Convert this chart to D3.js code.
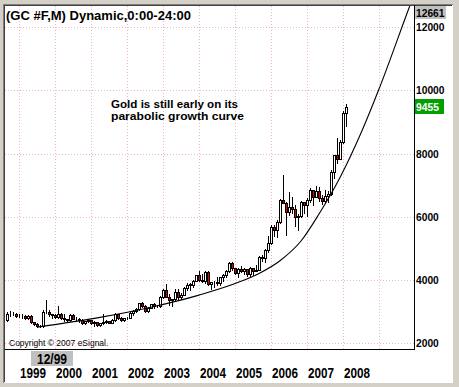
<!DOCTYPE html>
<html><head><meta charset="utf-8">
<script src="https://cdn.jsdelivr.net/npm/d3@7"></script>
<style>html,body{margin:0;padding:0;background:#fff;overflow:hidden}svg{display:block}</style>
</head><body>
<svg id="c" width="459" height="387"></svg>
<script>
// ---- data (monthly candles, price x10) ----
const firstMonth = "1998-09";
const opens = [
  2730, 2930, 2920, 2940,
  2880, 2870, 2880, 2800, 2870, 2680, 2620, 2560, 2550, 3000, 3000, 2920,
  2890, 2840, 2940, 2790, 2760, 2730, 2890, 2780, 2780, 2740, 2650, 2700,
  2730, 2660, 2670, 2580, 2640, 2680, 2710, 2660, 2730, 2930, 2790, 2750,
  2790, 2820, 2970, 3030, 3090, 3270, 3180, 3040, 3130, 3240, 3170, 3170,
  3480, 3680, 3480, 3360, 3390, 3640, 3470, 3540, 3750, 3860, 3860, 3980,
  4160, 4020, 3960, 4260, 3880, 3940, 3950, 3910, 4090, 4160, 4290, 4530,
  4380, 4220, 4350, 4280, 4350, 4180, 4370, 4300, 4330, 4730, 4700, 4950,
  5180, 5690, 5570, 5830, 6540, 6430, 6140, 6320, 6260, 5990, 6040, 6480,
  6360, 6520, 6850, 6630, 6830, 6590, 6500, 6650, 6730, 7430, 7950, 7830,
  8380, 9280
];
const highs = [
  3010, 3020, 3010, 2970,
  2930, 2920, 2910, 2900, 2890, 2680, 2640, 2590, 3050, 3380, 3050, 2940,
  2920, 3180, 2970, 2920, 2780, 2940, 2920, 2830, 2800, 2760, 2720, 2760,
  2740, 2700, 2680, 2650, 2930, 2750, 2720, 2780, 2950, 2940, 2840, 2810,
  2840, 3020, 3050, 3110, 3270, 3320, 3220, 3150, 3260, 3270, 3220, 3490,
  3720, 3890, 3550, 3410, 3730, 3710, 3600, 3770, 3920, 3910, 4000, 4170,
  4300, 4190, 4280, 4280, 3950, 3980, 4100, 4110, 4200, 4320, 4560, 4580,
  4390, 4390, 4460, 4380, 4360, 4430, 4380, 4470, 4760, 4790, 4970, 5410,
  5750, 5750, 5900, 6560, 7320, 6460, 6770, 6640, 6360, 6090, 6510, 6480,
  6590, 6910, 6860, 6960, 6930, 6700, 6860, 6830, 7490, 7960, 8480, 8430,
  9340, 9580
];
const lows = [
  2720, 2880, 2890, 2850,
  2830, 2820, 2780, 2780, 2650, 2570, 2520, 2520, 2530, 2960, 2880, 2800,
  2810, 2820, 2770, 2710, 2690, 2710, 2760, 2700, 2690, 2630, 2620, 2670,
  2630, 2550, 2560, 2550, 2630, 2660, 2640, 2650, 2710, 2770, 2710, 2720,
  2770, 2800, 2890, 2990, 3050, 3150, 2980, 3000, 3110, 3120, 3150, 3160,
  3440, 3460, 3220, 3200, 3370, 3410, 3410, 3520, 3690, 3700, 3780, 3980,
  3980, 3930, 3920, 3850, 3720, 3800, 3860, 3860, 3960, 4110, 4260, 4330,
  4190, 4100, 4250, 4210, 4140, 4140, 4160, 4280, 4320, 4620, 4570, 4900,
  5150, 5380, 5360, 5820, 6430, 5430, 6050, 6120, 5710, 5600, 6000, 6130,
  6030, 6470, 6370, 6620, 6510, 6410, 6480, 6460, 6680, 7240, 7710, 7830,
  8330, 8870
];
const closes = [
  2930, 2920, 2940, 2880,
  2870, 2880, 2800, 2870, 2680, 2620, 2560, 2550, 3000, 2995, 2920, 2890,
  2840, 2940, 2790, 2760, 2730, 2890, 2780, 2785, 2740, 2650, 2700, 2730,
  2660, 2670, 2580, 2640, 2680, 2710, 2660, 2730, 2930, 2790, 2750, 2790,
  2820, 2970, 3030, 3090, 3270, 3180, 3040, 3130, 3240, 3170, 3175, 3480,
  3680, 3480, 3360, 3390, 3640, 3470, 3540, 3750, 3860, 3865, 3980, 4160,
  4020, 3960, 4260, 3880, 3940, 3950, 3910, 4090, 4160, 4290, 4530, 4380,
  4220, 4350, 4280, 4350, 4180, 4370, 4300, 4330, 4730, 4700, 4950, 5180,
  5690, 5570, 5830, 6540, 6430, 6140, 6320, 6260, 5990, 6040, 6480, 6360,
  6520, 6850, 6630, 6830, 6590, 6500, 6650, 6730, 7430, 7950, 7830, 8380,
  9280, 9455
];
// parabolic growth curve
const curveMonths = ["1999-07","2001-04","2002-09","2004-01","2005-03","2005-09","2006-04",
  "2006-11","2007-05","2007-12","2008-07","2009-01","2009-11","2009-12"];
const curveValues = [2517, 2824, 3146, 3528, 3964, 4214, 4615, 5237, 6090, 7243, 8649, 10039, 12598, 12851];

const priceTicks = [2000, 4000, 6000, 8000, 10000, 12000];
const yearLabels = ["1999","2000","2001","2002","2003","2004","2005","2006","2007","2008"];
const gridYears = [1999,2000,2001,2002,2003,2004,2005,2006,2007,2008,2009];
const titleText = "(GC #F,M) Dynamic,0:00-24:00";
const noteLines = ["Gold is still early on its", "parabolic growth curve"];
const topValue = 12661;
const lastValue = 9455;
const cursorLabel = "12/99";
const copyrightText = "Copyright \u00A9 2007 eSignal.";

// ---- layout ----
const L = 5, R = 414, T = 6, B = 349;
const parse = d3.timeParse("%Y-%m");
const mIdx = d => (d.getFullYear() - 1999) * 12 + d.getMonth();
const start = parse(firstMonth);
const candles = closes.map((c, i) => ({
  d: d3.timeMonth.offset(start, i), o: opens[i], h: highs[i], l: lows[i], c: c
}));
const x = d3.scaleLinear().domain([0, 120]).range([19, 379]);
const y = d3.scaleLinear().domain([1826, topValue]).range([B, T]);

const svg = d3.select("#c");
const FONT = "'Liberation Sans', Arial, sans-serif";

// window frame
svg.append("rect").attr("width", 459).attr("height", 387).attr("fill", "#d4d0c8");
svg.append("rect").attr("x", 5).attr("y", 6).attr("width", 447).attr("height", 376).attr("fill", "#fff");
svg.append("line").attr("x1", 3).attr("x2", 453).attr("y1", 4.5).attr("y2", 4.5).attr("stroke", "#808080");
svg.append("line").attr("x1", 3.5).attr("x2", 3.5).attr("y1", 4).attr("y2", 383).attr("stroke", "#808080");
svg.append("line").attr("x1", 4).attr("x2", 453).attr("y1", 5.5).attr("y2", 5.5).attr("stroke", "#404040");
svg.append("line").attr("x1", 4.5).attr("x2", 4.5).attr("y1", 5).attr("y2", 382).attr("stroke", "#404040");
svg.append("line").attr("x1", 452.5).attr("x2", 452.5).attr("y1", 5).attr("y2", 383).attr("stroke", "#ffffff");
svg.append("line").attr("x1", 4).attr("x2", 453).attr("y1", 382.5).attr("y2", 382.5).attr("stroke", "#ffffff");

// grid
const grid = svg.append("g").attr("stroke", "#f0b4c4").attr("stroke-dasharray", "1,2").attr("shape-rendering", "crispEdges");
grid.selectAll("line.h").data(priceTicks).join("line")
  .attr("x1", L).attr("x2", R).attr("y1", d => Math.round(y(d)) + 0.5).attr("y2", d => Math.round(y(d)) + 0.5);
grid.selectAll("line.v").data(gridYears).join("line")
  .attr("x1", d => x((d - 1999) * 12) + 0.5).attr("x2", d => x((d - 1999) * 12) + 0.5)
  .attr("y1", T).attr("y2", B);

// clip
svg.append("clipPath").attr("id", "plot").append("rect").attr("x", L).attr("y", T).attr("width", R - L).attr("height", B - T);
const plot = svg.append("g").attr("clip-path", "url(#plot)");

// candles
const cg = plot.append("g").attr("shape-rendering", "crispEdges");
candles.forEach(k => {
  const cx = Math.round(x(mIdx(k.d)));
  cg.append("line").attr("x1", cx + 0.5).attr("x2", cx + 0.5)
    .attr("y1", Math.round(y(k.h))).attr("y2", Math.round(y(k.l)) + 1).attr("stroke", "#000");
  const yt = Math.round(y(Math.max(k.o, k.c))), yb = Math.round(y(Math.min(k.o, k.c)));
  cg.append("rect").attr("x", cx - 0.5).attr("y", yt + 0.5).attr("width", 2).attr("height", Math.max(yb - yt, 0))
    .attr("fill", k.c < k.o ? "#e00000" : "#ffffff").attr("stroke", "#000");
});

// curve
const cdata = curveMonths.map((m, i) => ({ m: mIdx(parse(m)), v: curveValues[i] }));
plot.append("path").datum(cdata)
  .attr("d", d3.line().x(d => x(d.m)).y(d => y(d.v)).curve(d3.curveMonotoneX))
  .attr("fill", "none").attr("stroke", "#000").attr("stroke-width", 1.1);

// axis lines
svg.append("line").attr("x1", R + 0.5).attr("x2", R + 0.5).attr("y1", T - 1).attr("y2", B + 1).attr("stroke", "#000");
svg.append("line").attr("x1", L).attr("x2", R + 1).attr("y1", B + 0.5).attr("y2", B + 0.5).attr("stroke", "#000");

// price labels
svg.selectAll("text.p").data(priceTicks).join("text")
  .attr("x", 416).attr("y", d => y(d) + 4)
  .attr("font-family", FONT).attr("font-weight", "bold").attr("font-size", 11.5).attr("fill", "#000")
  .attr("textLength", d => String(d).length * 5.7).attr("lengthAdjust", "spacingAndGlyphs")
  .text(d => d);
// top value box
svg.append("rect").attr("x", 415).attr("y", 6).attr("width", 31).attr("height", 13).attr("fill", "#c0c0c0");
svg.append("text").attr("x", 416).attr("y", 17).attr("font-family", FONT).attr("font-weight", "bold")
  .attr("font-size", 11.5).attr("textLength", 28.5).attr("lengthAdjust", "spacingAndGlyphs").text(topValue);
// last value box
const ly = y(lastValue);
svg.append("rect").attr("x", 415).attr("y", Math.round(ly) - 8).attr("width", 29).attr("height", 15).attr("fill", "#00a000");
svg.append("text").attr("x", 416).attr("y", ly + 4).attr("font-family", FONT).attr("font-weight", "bold")
  .attr("font-size", 11.5).attr("textLength", 23).attr("lengthAdjust", "spacingAndGlyphs")
  .attr("fill", "#fff").text(lastValue);

// year labels
svg.selectAll("text.yr").data(yearLabels).join("text")
  .attr("x", d => x((+d - 1999) * 12) + 1).attr("y", 378)
  .attr("font-family", FONT).attr("font-weight", "bold").attr("font-size", 14)
  .attr("textLength", 26).attr("lengthAdjust", "spacingAndGlyphs").text(d => d);

// cursor date box
svg.append("rect").attr("x", 31).attr("y", 351).attr("width", 42).attr("height", 15).attr("fill", "#c0c0c0");
svg.append("text").attr("x", 37).attr("y", 364)
  .attr("font-family", FONT).attr("font-weight", "bold").attr("font-size", 14)
  .attr("textLength", 30).attr("lengthAdjust", "spacingAndGlyphs").text(cursorLabel);

// title
svg.append("text").attr("x", 6).attr("y", 20).attr("font-family", FONT).attr("font-weight", "bold")
  .attr("font-size", 13).text(titleText);

// note
svg.selectAll("text.n").data(noteLines).join("text")
  .attr("x", 111).attr("y", (d, i) => 108 + i * 12)
  .attr("font-family", FONT).attr("font-weight", "bold").attr("font-size", 11)
  .attr("textLength", (d, i) => [127, 133][i]).attr("lengthAdjust", "spacingAndGlyphs")
  .text(d => d);

// copyright
svg.append("text").attr("x", 9).attr("y", 346).attr("font-family", FONT).attr("font-size", 8.5).text(copyrightText);
</script>
</body></html>
